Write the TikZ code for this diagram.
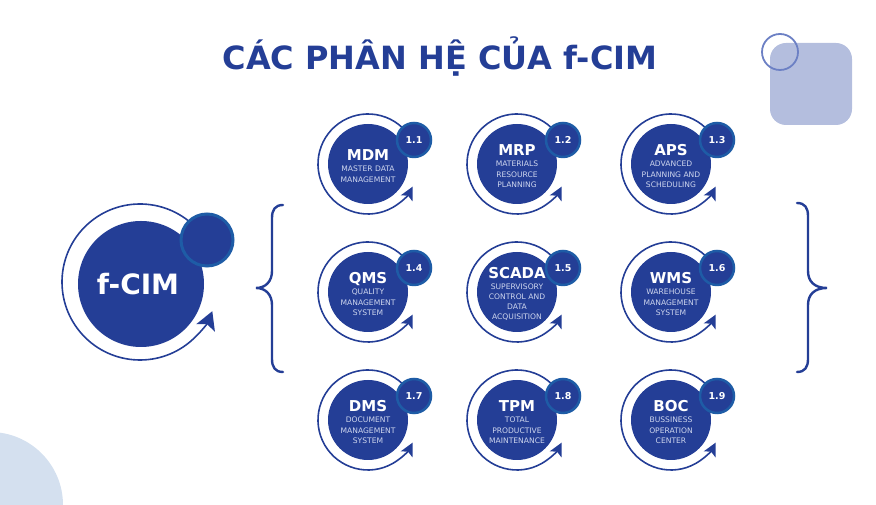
\documentclass[tikz,border=0pt]{standalone}
\usepackage{fontspec}
\setmainfont{DejaVu Sans}
\usetikzlibrary{arrows.meta}

\definecolor{fblue}{RGB}{36,62,150}
\definecolor{fbadge}{RGB}{30,92,166}
\definecolor{fdesc}{RGB}{206,214,238}
\definecolor{fdeco}{RGB}{180,190,222}
\definecolor{fdecoline}{RGB}{108,128,196}
\definecolor{fcorner}{RGB}{212,224,239}

\tikzset{
  ring/.style={draw=fblue, line width=1.6pt},
  badge/.style={circle, fill=fblue, draw=fbadge, line width=2.5pt,
    text=white, inner sep=0pt, minimum size=34pt,
    font=\bfseries\fontsize{9.5}{9.5}\selectfont},
  brace/.style={draw=fblue, line width=2.4pt, line cap=round}
}

\begin{document}
\begin{tikzpicture}
  \useasboundingbox (0pt,0pt) rectangle (876pt,505pt);

  % background shapes
  \fill[fcorner] (-10pt,0pt) circle (73pt);
  \fill[fdeco, rounded corners=16pt] (770pt,380pt) rectangle (852pt,462pt);
  \draw[fdecoline, line width=1.8pt] (780pt,453pt) circle (18pt);

  \node[text=fblue, font=\bfseries\fontsize{32}{32}\selectfont] (title)
  at (440pt,448pt) {CÁC PHÂN HỆ CỦA f-CIM};

  % f-CIM
  \draw[ring, -{Stealth[length=18pt,width=20pt,inset=4pt]}] (140pt,223pt)
  ++(40:78pt) arc[start angle=40, end angle=338, radius=78pt];
  \fill[fblue] (141pt,221pt) circle (63pt);
  \node[text=white, font=\bfseries\fontsize{28}{28}\selectfont] (fcim)
  at (138pt,221pt) {f-CIM};
  \node[badge, minimum size=52pt, line width=3pt] (fcim-dot) at (207pt,265pt) {};

  % modules
  \foreach \cx/\cy/\abbr/\desc/\num/\name in {
    368/341/MDM/{MASTER DATA\\MANAGEMENT}/1.1/mdm,
    517/341/MRP/{MATERIALS\\RESOURCE\\PLANNING}/1.2/mrp,
    671/341/APS/{ADVANCED\\PLANNING AND\\SCHEDULING}/1.3/aps,
    368/213/QMS/{QUALITY\\MANAGEMENT\\SYSTEM}/1.4/qms,
    517/213/SCADA/{SUPERVISORY\\CONTROL AND\\DATA\\ACQUISITION}/1.5/scada,
    671/213/WMS/{WAREHOUSE\\MANAGEMENT\\SYSTEM}/1.6/wms,
    368/85/DMS/{DOCUMENT\\MANAGEMENT\\SYSTEM}/1.7/dms,
    517/85/TPM/{TOTAL\\PRODUCTIVE\\MAINTENANCE}/1.8/tpm,
    671/85/BOC/{BUSSINESS\\OPERATION\\CENTER}/1.9/boc}
  {
  \begin{scope}[shift={(\cx pt,\cy pt)}]
    \draw[ring, -{Stealth[length=13pt,width=13pt,inset=3pt]}] (30:50pt)
    arc[start angle=30, end angle=333, radius=50pt];
    \fill[fblue] (0pt,0pt) circle (40pt);
    \node[align=center, text=fdesc, inner sep=0pt,
      font=\fontsize{7.6}{10.2}\selectfont] (\name) at (0pt,-2pt)
    {{\fontsize{15}{15}\selectfont\bfseries\color{white}\abbr}\\[1pt]\desc};
    \node[badge] (\name-num) at (46pt,24pt) {\num};
  \end{scope}
  }

  % braces
  \draw[brace] (283pt,300pt) .. controls (275pt,300pt) and (272pt,295pt)
  .. (272pt,287pt) -- (272pt,234pt) .. controls (272pt,224pt) and (266pt,217pt)
  .. (256pt,217pt) .. controls (266pt,217pt) and (272pt,210pt)
  .. (272pt,200pt) -- (272pt,146pt) .. controls (272pt,138pt) and (275pt,133pt)
  .. (283pt,133pt);
  \draw[brace] (797pt,302pt) .. controls (805pt,302pt) and (808pt,297pt)
  .. (808pt,289pt) -- (808pt,234pt) .. controls (808pt,224pt) and (814pt,217pt)
  .. (827pt,217pt) .. controls (814pt,217pt) and (808pt,210pt)
  .. (808pt,200pt) -- (808pt,146pt) .. controls (808pt,138pt) and (805pt,133pt)
  .. (797pt,133pt);
\end{tikzpicture}
\end{document}
